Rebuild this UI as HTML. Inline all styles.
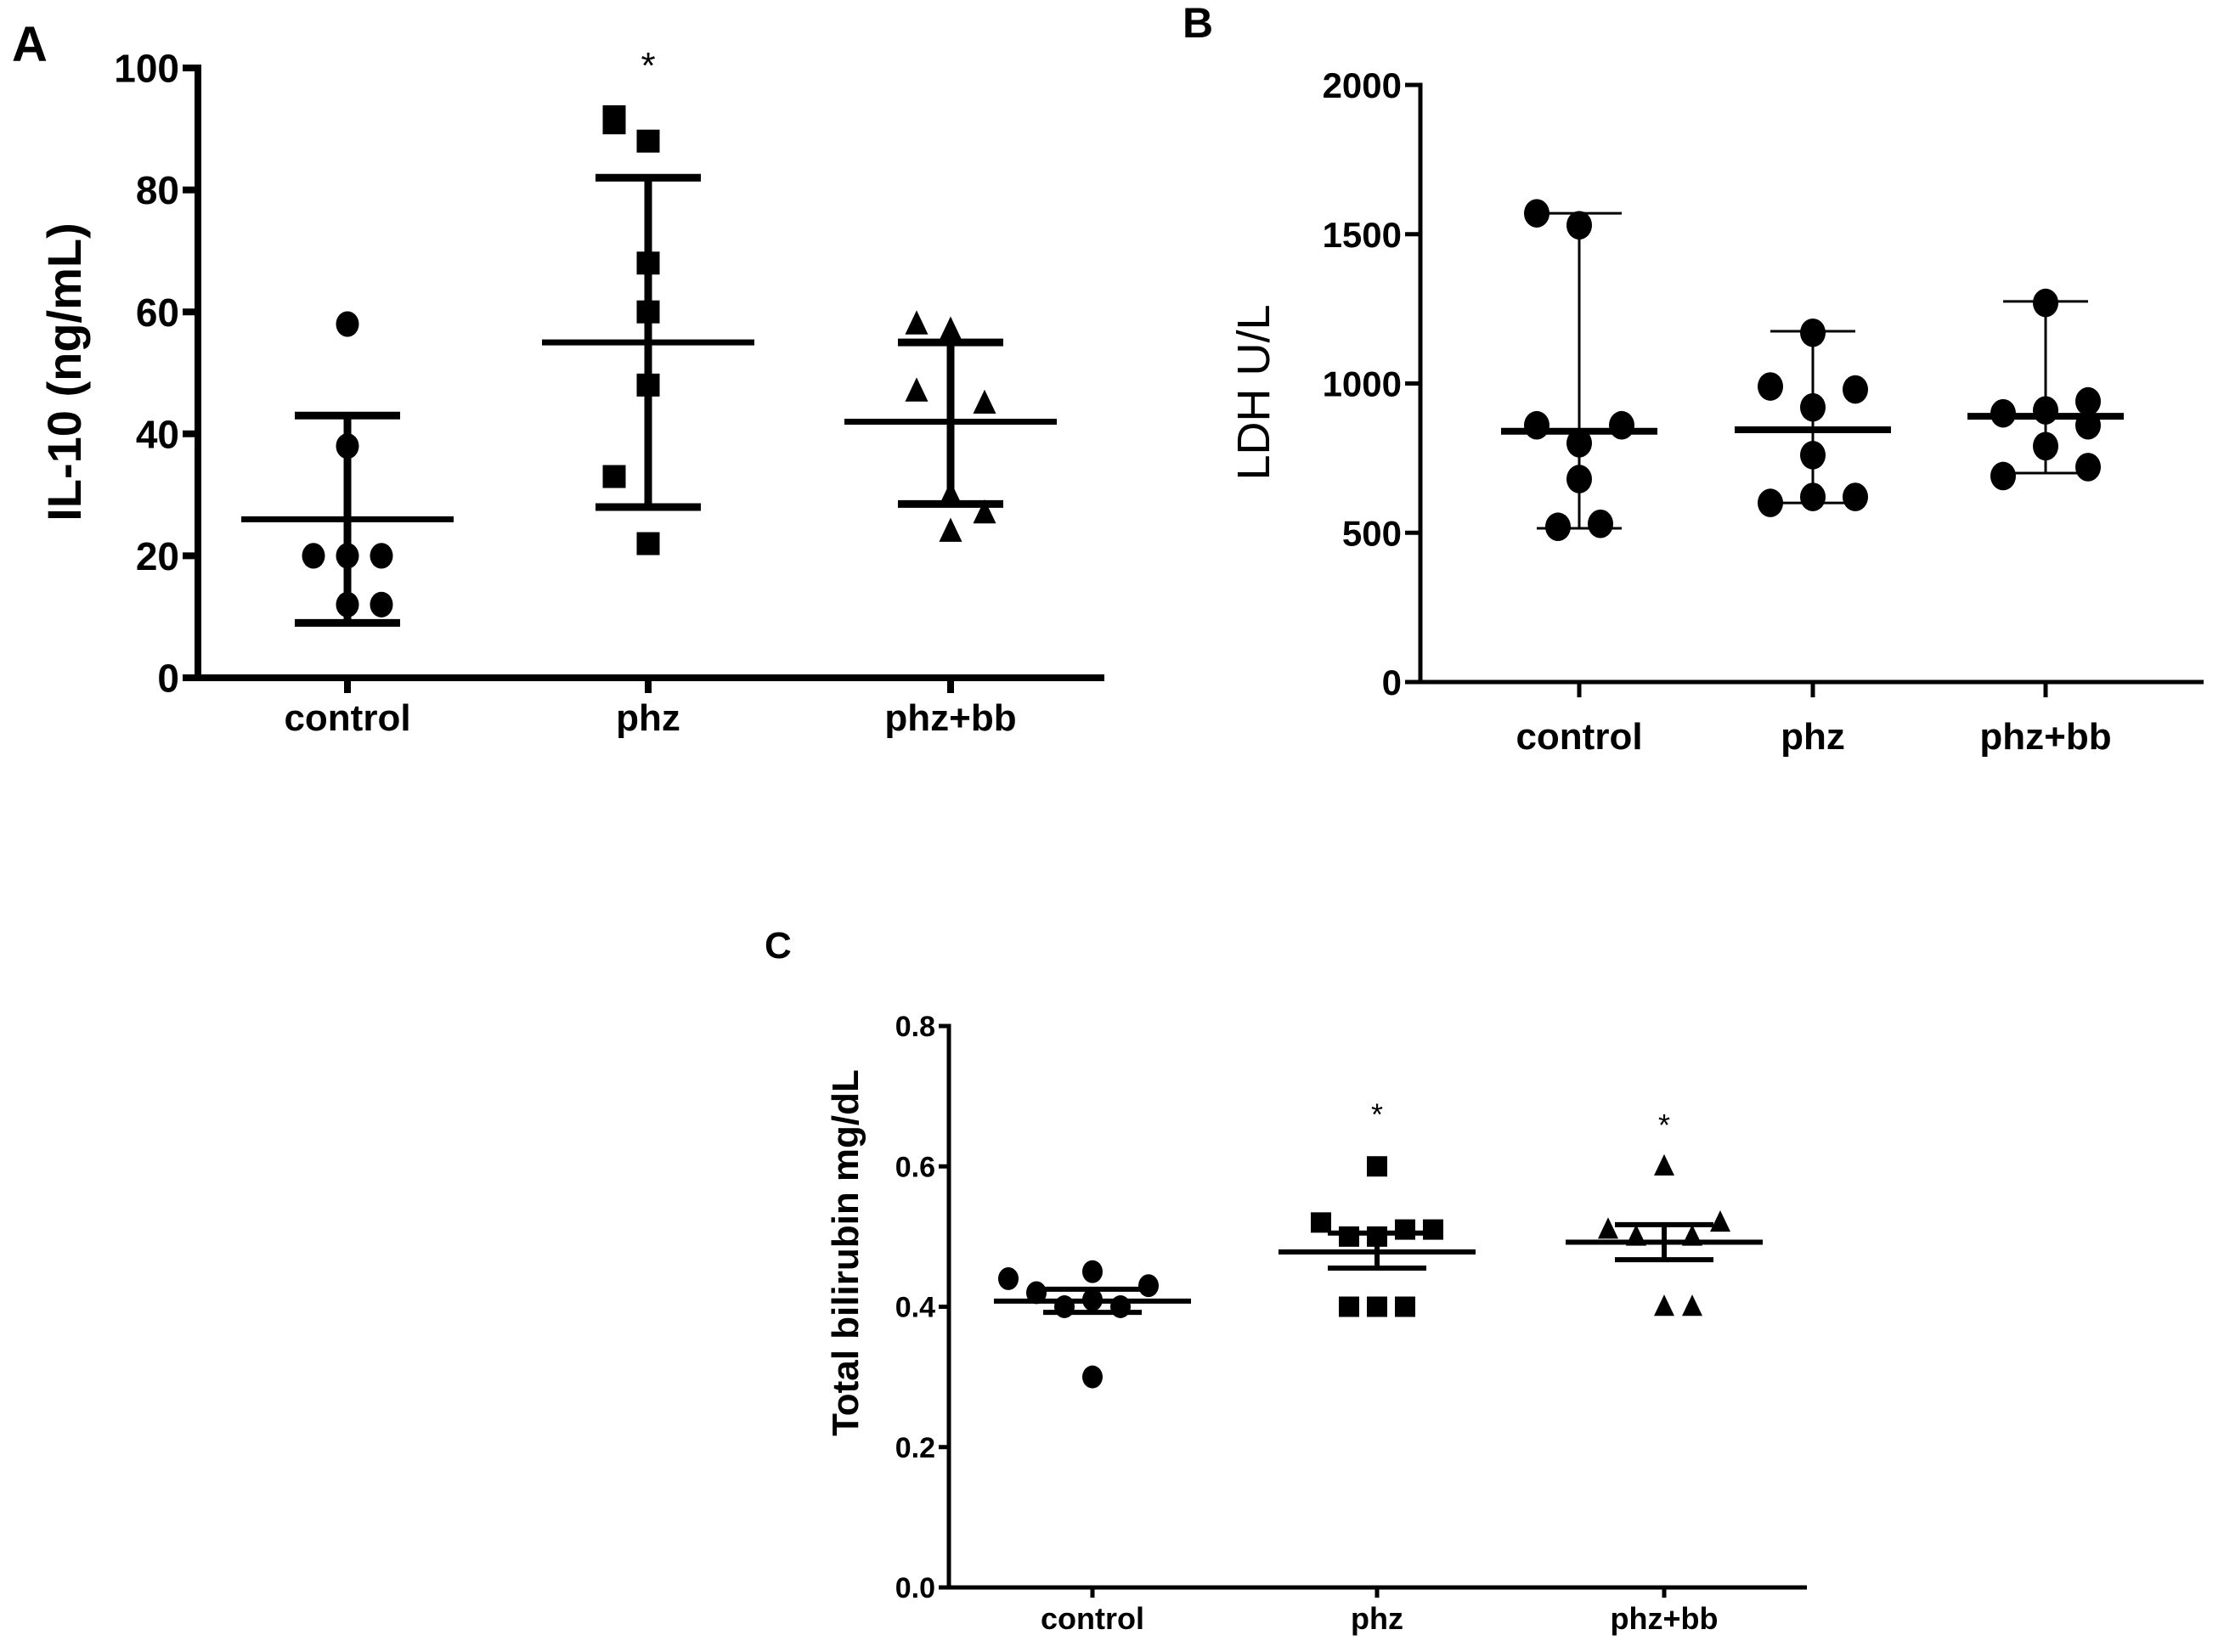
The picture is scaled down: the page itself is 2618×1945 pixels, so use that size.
<!DOCTYPE html>
<html><head><meta charset="utf-8"><style>
html,body{margin:0;padding:0;background:#fff;}
svg{display:block;}
text{font-family:"Liberation Sans",sans-serif;fill:#000;}
</style></head><body>
<svg id="fig" width="2618" height="1945" viewBox="0 0 2618 1945" xmlns="http://www.w3.org/2000/svg">
<rect width="2618" height="1945" fill="#fff"/>
<g id="pA"></g>
<g id="pB"></g>
<g id="pC"></g>
</svg>
<script>
const NS="http://www.w3.org/2000/svg";
const categories=["control","phz","phz+bb"];
// Panel A: IL-10
const aTicks=[0,20,40,60,80,100];
const aValues=[[58,38,20,20,20,12,12],[92,91,88,68,60,48,33,22],[58,57,47,45,30,27,24]];
const aJitter=[[0,0,-1,0,1,0,1],[-1,-1,0,0,0,0,-1,0],[-1,0,-1,1,0,1,0]];
const aCenter=[26,55,42];
const aUpper=[43,82,55];
const aLower=[9,28,28.5];
const aStars=[null,102,null];
// Panel B: LDH
const bTicks=[0,500,1000,1500,2000];
const bValues=[[1570,1530,860,860,800,680,520,530],[1170,990,980,920,760,600,620,620],[1270,900,910,940,860,790,690,720]];
const bJitter=[[-1,0,-1,1,0,0,-0.5,0.5],[0,-1,1,0,0,-1,0,1],[0,-1,0,1,1,0,-1,1]];
const bCenter=[840,845,890];
const bUpper=[1570,1175,1275];
const bLower=[515,600,700];
// Panel C: bilirubin
const cTicks=[0,0.2,0.4,0.6,0.8];
const cValues=[[0.44,0.42,0.45,0.43,0.40,0.40,0.41,0.30],[0.60,0.52,0.50,0.50,0.51,0.51,0.40,0.40,0.40],[0.60,0.51,0.50,0.50,0.52,0.40,0.40]];
const cJitter=[[-3,-2,0,2,-1,1,0,0],[0,-2,-1,0,1,2,-1,0,1],[0,-2,-1,1,2,0,1]];
const cCenter=[0.408,0.478,0.492];
const cUpper=[0.425,0.505,0.517];
const cLower=[0.392,0.455,0.467];
const cStars=[null,0.685,0.67];

function el(parent,tag,attrs,name,inter){
  const e=document.createElementNS(NS,tag);
  for(const k in attrs)e.setAttribute(k,attrs[k]);
  
  
  parent.appendChild(e);return e;
}
function marker(g,shape,x,y,s,name){
  if(shape==='circle')return el(g,'ellipse',{cx:x,cy:y,rx:s*0.5,ry:s*0.56,fill:'#000'},name,false);
  if(shape==='square')return el(g,'rect',{x:x-s/2,y:y-s/2,width:s,height:s,fill:'#000'},name,false);
  return el(g,'polygon',{points:`${x},${y-s*0.6} ${x-s*0.5},${y+s*0.45} ${x+s*0.5},${y+s*0.45}`,fill:'#000'},name,false);
}
function panel(cfg){
  const g=document.getElementById(cfg.id);
  const y=v=>cfg.y0+(cfg.y1-cfg.y0)*(v-cfg.min)/(cfg.max-cfg.min);
  const x=i=>cfg.cx[i];
  el(g,'line',{x1:cfg.ax,y1:y(cfg.max)-cfg.aw/2,x2:cfg.ax,y2:cfg.y0+cfg.aw/2,stroke:'#000','stroke-width':cfg.aw},'y-axis',false);
  el(g,'line',{x1:cfg.ax-cfg.aw/2,y1:cfg.y0,x2:cfg.xEnd,y2:cfg.y0,stroke:'#000','stroke-width':cfg.aw},'x-axis',false);
  cfg.ticks.forEach(t=>{
    el(g,'line',{x1:cfg.ax-cfg.tl,y1:y(t),x2:cfg.ax,y2:y(t),stroke:'#000','stroke-width':cfg.aw},'y-tick',false);
    const tx=el(g,'text',{x:cfg.ax-cfg.tl-4,y:y(t)+cfg.tf*0.36,'font-size':cfg.tf,'font-weight':'bold','text-anchor':'end'},'y-tick-label',false);
    tx.textContent=cfg.fmt(t);
  });
  categories.forEach((c,i)=>{
    el(g,'line',{x1:x(i),y1:cfg.y0,x2:x(i),y2:cfg.y0+cfg.tl,stroke:'#000','stroke-width':cfg.aw},'x-tick',false);
    const tx=el(g,'text',{x:x(i),y:cfg.xly,'font-size':cfg.xf,'font-weight':'bold','text-anchor':'middle'},'x-tick-label',false);
    tx.textContent=c;
  });
  const yl=el(g,'text',{x:0,y:0,'font-size':cfg.yf,'font-weight':cfg.yw,'text-anchor':'middle',transform:`translate(${cfg.ylx},${cfg.yly}) rotate(-90)`},'y-axis-title',false);
  yl.textContent=cfg.ytitle;
  const pl=el(g,'text',{x:cfg.lx,y:cfg.ly,'font-size':cfg.lf,'font-weight':'bold'},'panel-label',false);
  pl.textContent=cfg.label;
  cfg.values.forEach((arr,i)=>{
    arr.forEach((v,j)=>{
      marker(g,cfg.shapes[i],x(i)+cfg.jitter[i][j]*cfg.js,y(v),cfg.ms,'data-point');
    });
  });
  categories.forEach((c,i)=>{
    el(g,'line',{x1:x(i),y1:y(cfg.upper[i]),x2:x(i),y2:y(cfg.lower[i]),stroke:'#000','stroke-width':cfg.ew},'error-bar',false);
    el(g,'line',{x1:x(i)-cfg.cap,y1:y(cfg.upper[i]),x2:x(i)+cfg.cap,y2:y(cfg.upper[i]),stroke:'#000','stroke-width':cfg.ew},'error-cap-upper',false);
    el(g,'line',{x1:x(i)-cfg.cap,y1:y(cfg.lower[i]),x2:x(i)+cfg.cap,y2:y(cfg.lower[i]),stroke:'#000','stroke-width':cfg.ew},'error-cap-lower',false);
    el(g,'line',{x1:x(i)-cfg.mw,y1:y(cfg.center[i]),x2:x(i)+cfg.mw,y2:y(cfg.center[i]),stroke:'#000','stroke-width':cfg.cw},'center-line',false);
    if(cfg.stars&&cfg.stars[i]!=null){
      const s=el(g,'text',{x:x(i),y:y(cfg.stars[i])+cfg.sf*0.6,'font-size':cfg.sf,'text-anchor':'middle'},'significance-star',false);
      s.textContent='*';
    }
  });
}
panel({id:'pA',min:0,max:100,y0:798,y1:80,ax:233,xEnd:1300,cx:[409,763,1119],ticks:aTicks,fmt:t=>String(t),
  tl:18,aw:8,tf:46,xf:44,xly:860,yf:56,yw:'bold',ylx:95,yly:438,ytitle:'IL-10 (ng/mL)',lx:14,ly:72,lf:58,label:'A',
  values:aValues,jitter:aJitter,js:40,shapes:['circle','square','triangle'],ms:27,
  center:aCenter,upper:aUpper,lower:aLower,ew:9,cap:62,mw:125,cw:7,stars:aStars,sf:44});
panel({id:'pB',min:0,max:2000,y0:803,y1:100,ax:1672,xEnd:2594,cx:[1859,2134,2408],ticks:bTicks,fmt:t=>String(t),
  tl:18,aw:5,tf:42,xf:44,xly:882,yf:54,yw:'normal',ylx:1494,yly:462,ytitle:'LDH U/L',lx:1392,ly:44,lf:50,label:'B',
  values:bValues,jitter:bJitter,js:50,shapes:['circle','circle','circle'],ms:30,
  center:bCenter,upper:bUpper,lower:bLower,ew:3,cap:50,mw:92,cw:8,stars:null,sf:40});
panel({id:'pC',min:0,max:0.8,y0:1869,y1:1208,ax:1117,xEnd:2127,cx:[1286,1621,1959],ticks:cTicks,fmt:t=>t.toFixed(1),
  tl:12,aw:5,tf:34,xf:36,xly:1918,yf:44,yw:'bold',ylx:1010,yly:1475,ytitle:'Total bilirubin  mg/dL',lx:900,ly:1128,lf:44,label:'C',
  values:cValues,jitter:cJitter,js:33,shapes:['circle','square','triangle'],ms:24,
  center:cCenter,upper:cUpper,lower:cLower,ew:6,cap:58,mw:116,cw:6,stars:cStars,sf:36});
</script>
</body></html>
